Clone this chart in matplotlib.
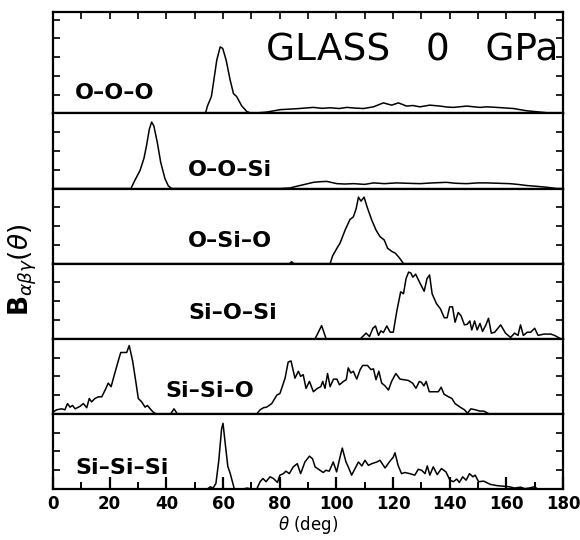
import numpy as np
import matplotlib
matplotlib.use('Agg')
import matplotlib.pyplot as plt
from matplotlib.ticker import MultipleLocator

# bond-angle distributions (theta in deg, B in arbitrary units)
ooo_theta = [0, 53.8, 54.5, 55.9, 56.6, 57.8, 59.0, 59.9, 61.1, 62.5, 63.7, 64.8, 66.6, 68.4, 70.1,
             75.4, 80.2, 86, 91.9, 95, 97.8, 101, 103.7, 107, 109.6, 113.1, 116.6, 119.5, 121.9, 124.8,
             127, 129.5, 133, 136.6, 139, 141.3, 146, 150.7, 153, 156.6, 162.5, 167.2, 171.9, 176.6, 180]
ooo_vals = [0, 0, 0.39, 0.9, 1.6, 2.84, 3.54, 3.46, 2.84, 1.79, 1.05, 0.9, 0.4, 0.1, 0,
            0.07, 0.2, 0.25, 0.32, 0.27, 0.3, 0.26, 0.32, 0.28, 0.26, 0.35, 0.56, 0.44, 0.56, 0.39,
            0.42, 0.35, 0.44, 0.39, 0.34, 0.32, 0.39, 0.32, 0.35, 0.32, 0.26, 0.14, 0.07, 0, 0]

oosi_theta = [0, 27.5, 28.9, 30.7, 32.1, 33, 34, 34.8, 35.6, 36.8, 38, 39.5, 40.7, 41.9, 80,
              83.6, 86, 88.3, 91.9, 94, 96.6, 100.2, 103, 106.1, 110, 113.1, 117, 121.3, 125, 129.5,
              134, 138.9, 142, 146, 150, 153, 157, 161.2, 164, 167.2, 170.5, 174.2, 177.8, 180]
oosi_vals = [0, 0, 0.44, 0.96, 1.61, 2.28, 3.16, 3.54, 3.33, 2.46, 1.4, 0.53, 0.14, 0, 0,
             0.03, 0.12, 0.2, 0.33, 0.36, 0.38, 0.26, 0.24, 0.26, 0.22, 0.3, 0.26, 0.3, 0.28, 0.26,
             0.3, 0.33, 0.28, 0.26, 0.3, 0.3, 0.28, 0.26, 0.22, 0.16, 0.12, 0.07, 0, 0]

osio_theta = [0, 83.5, 84.2, 85, 97.8, 98.7, 100.2, 101.3, 103.1, 104.8, 106, 107, 107.8, 108.7,
              109.8, 110.9, 112.5, 114, 115.4, 116.9, 118.1, 119.6, 120.8, 122.3, 123.7, 180]
osio_vals = [0, 0, 0.1, 0, 0, 0.42, 0.82, 1.09, 1.79, 2.35, 2.49, 2.93, 3.54, 3.33,
             3.54, 3.0, 2.32, 1.79, 1.44, 1.26, 0.82, 0.65, 0.56, 0.3, 0, 0]

siosi_theta = [0, 92.5, 94.8, 96.4, 108.5, 110.5, 111.7, 112.9, 113.8, 114.9, 115.7, 116.6, 117.8,
               119, 120.1, 121.3, 122.7, 123.7, 124.6, 125.5, 126.3, 127, 128, 129.4, 131, 132,
               132.9, 133.8, 135.3, 136.7, 138.1, 139.1, 140, 141, 141.9, 143, 144, 145.2, 146.2,
               147.1, 147.8, 148.8, 149.7, 150.7, 151.6, 152.8, 153.7, 154.7, 155.9, 158, 159.7,
               161.5, 162.9, 164.1, 165, 166, 167.4, 168.6, 170, 171.2, 173.3, 175.7, 177, 179.2, 180]
siosi_vals = [0, 0, 0.7, 0, 0, 0.3, 0.12, 0.56, 0.68, 0.18, 0.42, 0.33, 0.68,
              0.35, 0.35, 1.44, 2.5, 2.4, 3.2, 3.55, 3.5, 3.28, 3.44, 3.0, 2.53, 3.2,
              3.4, 2.4, 1.88, 1.6, 1.12, 1.12, 1.7, 1.7, 0.88, 1.4, 1.23, 0.74, 0.77,
              0.95, 0.47, 0.95, 0.47, 0.82, 0.39, 0.74, 1.09, 0.3, 0.35, 0.74, 0.3,
              0.07, 0.3, 0.18, 0.74, 0.18, 0.35, 0.35, 0.56, 0.18, 0.25, 0.25, 0.18, 0, 0]

sisio_theta = [0, 1.3, 3.1, 4.2, 5.1, 6, 6.9, 7.8, 9.5, 10.7, 11.9, 12.8, 13.6, 14.8, 16, 17.2,
               18.4, 19.5, 20.5, 21.5, 22.8, 23.9, 25, 26, 26.9, 28.1, 29.3, 30.1, 31.3, 32.5,
               33.3, 34.3, 35.4, 36.4, 41.5, 42.7, 43.9, 71.9, 73.1, 74.3, 75.4, 77.2, 79, 80.1,
               81.9, 83, 84, 85.4, 86.6, 87.4, 88.3, 89.3, 90.5, 91.9, 93.3, 94.5, 95.2, 96, 96.9,
               97.8, 99, 100.2, 101.1, 102.5, 103.5, 104.2, 105.1, 106, 107.2, 108.4, 109.3, 111,
               112.2, 113.1, 114, 115, 116, 117.2, 118.4, 119.5, 121, 122.5, 123.9, 125.4, 126.9,
               128.1, 129.3, 130.1, 130.9, 131.7, 132.8, 134.3, 136, 137, 138, 139.6, 140.8, 141.9,
               143.7, 145.2, 146.3, 147.5, 149, 150.6, 152, 154, 180]
sisio_vals = [0.1, 0.22, 0.27, 0.22, 0.55, 0.36, 0.45, 0.27, 0.4, 0.55, 0.33, 0.82, 0.64, 0.82, 0.91, 0.91,
              1.27, 1.64, 1.45, 2.0, 2.7, 3.27, 3.27, 3.27, 3.64, 2.82, 1.64, 0.82, 0.64, 0.36,
              0.45, 0.27, 0.09, 0, 0, 0.27, 0, 0, 0.22, 0.33, 0.36, 0.55, 1.0, 1.09,
              1.9, 2.76, 2.82, 1.9, 2.27, 2.0, 2.09, 1.36, 1.73, 1.18, 1.36, 1.45, 1.73, 1.36, 2.15,
              1.45, 1.85, 1.85, 1.55, 1.73, 1.82, 2.45, 2.18, 2.27, 1.85, 2.36, 2.58, 2.58,
              2.36, 2.4, 1.82, 2.27, 1.64, 1.49, 1.27, 1.73, 2.15, 1.85, 1.82, 1.78, 1.64,
              1.36, 1.73, 1.67, 1.49, 1.73, 1.18, 1.18, 1.18, 1.42, 1.05, 0.91, 0.82, 0.55,
              0.36, 0.22, 0.04, 0.27, 0.22, 0.15, 0.15, 0, 0]

sisisi_theta = [0, 54.5, 55.5, 56.5, 57.5, 58.5, 59.5, 60, 60.8, 61.7, 62.5, 63.3, 64, 67, 68.5, 70,
                71.9, 73.1, 74.1, 75.2, 76.6, 77.8, 79.2, 80.1, 81.3, 82.2, 83.4, 84.8, 86.2, 87.4,
                88.9, 90.5, 91.6, 92.5, 94.2, 95.4, 96.3, 97.5, 98.9, 100.1, 101.3, 102.1, 103.4,
                104.2, 105.4, 106.6, 107.8, 109, 110.1, 111.3, 112.5, 114.3, 115.4, 117.2, 118.7,
                120.1, 120.7, 121.8, 123, 124.2, 125.9, 127.7, 128.9, 130.1, 131.3, 132.1, 133,
                134.2, 135.6, 137.1, 138.7, 140.1, 141.3, 142.5, 143.4, 144.6, 145.8, 147, 148.2,
                149, 150.2, 152, 154.3, 156.7, 159, 161, 163, 165, 166.5, 168, 170, 171, 180]
sisisi_vals = [0, 0, 0.12, 0.05, 0.3, 1.5, 3.2, 3.5, 2.4, 1.2, 0.85, 0.4, 0, 0, 0.05, 0,
               0, 0.39, 0.56, 0.39, 0.65, 0.56, 0.35, 0.74, 0.82, 0.95, 0.82, 1.18, 1.35, 0.82,
               1.44, 1.75, 1.61, 1.18, 1.0, 0.88, 1.0, 0.95, 1.44, 0.91, 1.7, 2.18, 1.44,
               1.18, 0.74, 1.09, 1.44, 1.23, 1.53, 1.26, 1.35, 1.44, 1.53, 1.12, 1.44,
               1.7, 1.93, 1.26, 0.82, 0.88, 0.82, 0.74, 1.05, 1.0, 0.82, 1.23, 0.74,
               1.18, 0.77, 1.09, 0.91, 0.47, 0.39, 0.53, 0.35, 0.65, 0.47, 0.82, 0.65,
               0.74, 0.39, 0.42, 0.25, 0.18, 0.15, 0.12, 0.05, 0.1, 0.02, 0.05, 0.12, 0, 0]

labels = ['O–O–O', 'O–O–Si', 'O–Si–O', 'Si–O–Si', 'Si–Si–O', 'Si–Si–Si']
label_pos = [(7.8, 1.1), (47.7, 1.0), (47.7, 1.2), (47.7, 1.35), (39.5, 1.2), (7.8, 1.1)]

curves = [(ooo_theta, ooo_vals), (oosi_theta, oosi_vals), (osio_theta, osio_vals),
          (siosi_theta, siosi_vals), (sisio_theta, sisio_vals), (sisisi_theta, sisisi_vals)]
ytops = [5.4, 4, 4, 4, 4, 4]

fig, axes = plt.subplots(6, 1, figsize=(5.8, 5.4), dpi=100, sharex=True,
                         gridspec_kw={'height_ratios': ytops})
fig.subplots_adjust(left=0.0914, right=0.9707, bottom=0.0944, top=0.9778, hspace=0)

for i, ax in enumerate(axes):
    th, b = curves[i]
    ax.plot(th, b, color='black', linewidth=1.1)
    ax.set_xlim(0, 180)
    ax.set_ylim(0, ytops[i])
    ax.set_yticks(np.arange(1, int(ytops[i]) + (1 if ytops[i] > 4 else 0)))
    ax.tick_params(axis='y', direction='in', left=True, right=True, length=5, width=1.2,
                   labelleft=False)
    for s in ax.spines.values():
        s.set_linewidth(1.6)
    ax.text(label_pos[i][0], label_pos[i][1], labels[i], fontsize=16, fontweight='bold',
            va='center', ha='left')
    ax.xaxis.set_major_locator(MultipleLocator(20))
    ax.xaxis.set_minor_locator(MultipleLocator(10))
    ax.tick_params(axis='x', which='both', direction='in', top=False, bottom=False,
                   labelbottom=False)

# ticks on the outer frame only
axes[0].tick_params(axis='x', which='both', top=True, length=5, width=1.2)
axes[-1].tick_params(axis='x', which='major', bottom=True, length=9, width=1.6,
                     labelbottom=True, labelsize=12, pad=4)
axes[-1].tick_params(axis='x', which='minor', bottom=True, length=5, width=1.4)
for lab in axes[-1].get_xticklabels():
    lab.set_fontweight('bold')

axes[0].text(178.5, 3.37, 'GLASS   0   GPa', fontsize=27, ha='right', va='center')

axes[-1].set_xlabel(r'$\theta$ (deg)', fontsize=12, labelpad=1)
fig.text(0.04, 0.5, r'$\mathbf{B}_{\alpha\beta\gamma}(\theta)$', fontsize=19,
         rotation=90, ha='center', va='center')

plt.savefig('out.png', dpi=100)
